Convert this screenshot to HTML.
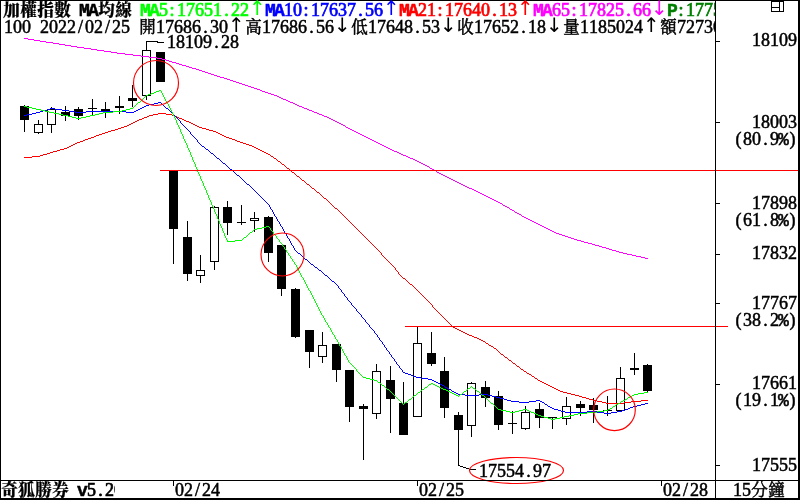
<!DOCTYPE html>
<html><head><meta charset="utf-8"><title>加權指數 MA均線</title>
<style>
html,body{margin:0;padding:0;background:#fff;overflow:hidden}
svg{display:block;position:absolute;left:0;top:0}
text{font-family:"Liberation Serif","Noto Serif CJK SC",serif;font-size:18px;white-space:pre;fill:currentColor;stroke:currentColor;stroke-width:.5px;color:#000}
text.b{stroke-width:.7px}
.b .k{font-weight:900;stroke-width:.2px}
.b .m{font-weight:bold;stroke-width:.5px}
.k{font-family:"Noto Serif CJK SC","Liberation Serif",serif;font-size:16.5px}
.m,.p{font-family:"Liberation Mono",monospace;font-size:18px}
.a{font-family:"DejaVu Sans",sans-serif;font-size:20px;stroke-width:0}
</style></head><body>
<svg width="800" height="500" viewBox="0 0 800 500">
<defs><clipPath id="hc"><rect x="0" y="0" width="715" height="36"/></clipPath><clipPath id="bc"><rect x="0" y="480" width="115" height="20"/></clipPath></defs>
<rect width="800" height="500" fill="#fff"/>
<g shape-rendering="crispEdges" fill="#000"><rect x="24" y="105" width="1" height="27"/><rect x="20" y="106" width="9" height="14"/><rect x="38" y="120" width="1" height="14"/><rect x="34" y="124" width="9" height="9"/><rect x="35" y="125" width="7" height="7" fill="#fff"/><rect x="51" y="107" width="1" height="26"/><rect x="47" y="109" width="9" height="16"/><rect x="48" y="110" width="7" height="14" fill="#fff"/><rect x="65" y="106" width="1" height="15"/><rect x="61" y="112" width="9" height="4"/><rect x="78" y="107" width="1" height="13"/><rect x="74" y="109" width="9" height="7"/><rect x="92" y="99" width="1" height="17"/><rect x="88" y="108" width="9" height="1"/><rect x="105" y="102" width="1" height="16"/><rect x="101" y="109" width="9" height="3"/><rect x="119" y="96" width="1" height="18"/><rect x="115" y="106" width="9" height="2"/><rect x="132" y="85" width="1" height="22"/><rect x="128" y="98" width="9" height="3"/><rect x="146" y="50" width="1" height="50"/><rect x="142" y="50" width="9" height="46"/><rect x="143" y="51" width="7" height="44" fill="#fff"/><rect x="160" y="52" width="1" height="30"/><rect x="156" y="52" width="9" height="30"/><rect x="173" y="171" width="1" height="93"/><rect x="169" y="171" width="9" height="58"/><rect x="187" y="221" width="1" height="60"/><rect x="183" y="237" width="9" height="37"/><rect x="200" y="255" width="1" height="28"/><rect x="196" y="270" width="9" height="6"/><rect x="197" y="271" width="7" height="4" fill="#fff"/><rect x="214" y="206" width="1" height="64"/><rect x="210" y="207" width="9" height="55"/><rect x="211" y="208" width="7" height="53" fill="#fff"/><rect x="227" y="201" width="1" height="34"/><rect x="223" y="207" width="9" height="16"/><rect x="241" y="205" width="1" height="20"/><rect x="237" y="222" width="9" height="1"/><rect x="254" y="212" width="1" height="20"/><rect x="250" y="218" width="9" height="3"/><rect x="251" y="219" width="7" height="1" fill="#fff"/><rect x="268" y="216" width="1" height="46"/><rect x="264" y="217" width="9" height="36"/><rect x="281" y="245" width="1" height="51"/><rect x="277" y="245" width="9" height="44"/><rect x="295" y="288" width="1" height="50"/><rect x="291" y="289" width="9" height="48"/><rect x="309" y="330" width="1" height="38"/><rect x="305" y="330" width="9" height="22"/><rect x="322" y="332" width="1" height="31"/><rect x="318" y="345" width="9" height="12"/><rect x="319" y="346" width="7" height="10" fill="#fff"/><rect x="336" y="344" width="1" height="38"/><rect x="332" y="344" width="9" height="26"/><rect x="349" y="370" width="1" height="52"/><rect x="345" y="370" width="9" height="37"/><rect x="363" y="404" width="1" height="56"/><rect x="359" y="406" width="9" height="3"/><rect x="376" y="364" width="1" height="55"/><rect x="372" y="371" width="9" height="43"/><rect x="373" y="372" width="7" height="41" fill="#fff"/><rect x="390" y="366" width="1" height="67"/><rect x="386" y="380" width="9" height="19"/><rect x="403" y="382" width="1" height="53"/><rect x="399" y="403" width="9" height="32"/><rect x="417" y="327" width="1" height="90"/><rect x="413" y="343" width="9" height="74"/><rect x="414" y="344" width="7" height="72" fill="#fff"/><rect x="431" y="332" width="1" height="34"/><rect x="427" y="353" width="9" height="11"/><rect x="444" y="357" width="1" height="61"/><rect x="440" y="371" width="9" height="37"/><rect x="458" y="412" width="1" height="54"/><rect x="454" y="415" width="9" height="15"/><rect x="471" y="382" width="1" height="55"/><rect x="467" y="383" width="9" height="43"/><rect x="468" y="384" width="7" height="41" fill="#fff"/><rect x="485" y="381" width="1" height="26"/><rect x="481" y="387" width="9" height="11"/><rect x="498" y="391" width="1" height="39"/><rect x="494" y="396" width="9" height="29"/><rect x="512" y="411" width="1" height="23"/><rect x="508" y="423" width="9" height="1"/><rect x="525" y="406" width="1" height="24"/><rect x="521" y="412" width="9" height="17"/><rect x="522" y="413" width="7" height="15" fill="#fff"/><rect x="539" y="403" width="1" height="25"/><rect x="535" y="409" width="9" height="9"/><rect x="552" y="417" width="1" height="12"/><rect x="548" y="417" width="9" height="1"/><rect x="566" y="397" width="1" height="28"/><rect x="562" y="406" width="9" height="13"/><rect x="563" y="407" width="7" height="11" fill="#fff"/><rect x="580" y="401" width="1" height="15"/><rect x="576" y="404" width="9" height="4"/><rect x="593" y="398" width="1" height="25"/><rect x="589" y="405" width="9" height="5"/><rect x="607" y="396" width="1" height="20"/><rect x="603" y="410" width="9" height="1"/><rect x="620" y="367" width="1" height="44"/><rect x="616" y="378" width="9" height="33"/><rect x="617" y="379" width="7" height="31" fill="#fff"/><rect x="634" y="353" width="1" height="22"/><rect x="630" y="368" width="9" height="2"/><rect x="647" y="364" width="1" height="29"/><rect x="643" y="365" width="9" height="26"/></g>
<g shape-rendering="crispEdges" stroke-width="1"><path fill="none" stroke="#f0f" d="M24 38.5h4M28 39.5h6M34 40.5h6M40 41.5h6M46 42.5h7M53 43.5h6M59 44.5h6M65 45.5h6M71 46.5h6M77 47.5h7M84 48.5h7M91 49.5h6M97 50.5h7M104 51.5h7M111 52.5h6M117 53.5h8M125 54.5h8M133 55.5h8M141 56.5h8M149 57.5h8M157 58.5h5M162 59.5h4M166 60.5h3M169 61.5h3M172 62.5h4M176 63.5h3M179 64.5h3M182 65.5h4M186 66.5h3M189 67.5h3M192 68.5h4M196 69.5h3M199 70.5h3M202 71.5h3M205 72.5h3M208 73.5h3M211 74.5h3M214 75.5h3M217 76.5h3M220 77.5h4M224 78.5h3M227 79.5h3M230 80.5h3M233 81.5h3M236 82.5h3M239 83.5h3M242 84.5h3M245 85.5h3M248 86.5h3M251 87.5h3M254 88.5h3M257 89.5h3M260 90.5h2M262 91.5h3M265 92.5h3M268 93.5h3M271 94.5h3M274 95.5h3M277 96.5h2M279 97.5h2M281 98.5h2M283 99.5h3M286 100.5h2M288 101.5h2M290 102.5h3M293 103.5h2M295 104.5h2M297 105.5h2M299 106.5h3M302 107.5h2M304 108.5h3M307 109.5h2M309 110.5h3M312 111.5h2M314 112.5h3M317 113.5h2M319 114.5h3M322 115.5h2M324 116.5h3M327 117.5h2M329 118.5h2M331 119.5h2M333 120.5h2M335 121.5h2M337 122.5h2M339 123.5h2M341 124.5h2M343 125.5h2M345 126.5h1M346 127.5h2M348 128.5h2M350 129.5h2M352 130.5h2M354 131.5h2M356 132.5h2M358 133.5h2M360 134.5h2M362 135.5h2M364 136.5h2M366 137.5h2M368 138.5h2M370 139.5h2M372 140.5h2M374 141.5h2M376 142.5h2M378 143.5h2M380 144.5h2M382 145.5h2M384 146.5h2M386 147.5h2M388 148.5h2M390 149.5h2M392 150.5h2M394 151.5h3M397 152.5h2M399 153.5h2M401 154.5h2M403 155.5h3M406 156.5h2M408 157.5h2M410 158.5h3M413 159.5h2M415 160.5h2M417 161.5h2M419 162.5h2M421 163.5h2M423 164.5h2M425 165.5h2M427 166.5h2M429 167.5h1M430 168.5h2M432 169.5h2M434 170.5h2M436 171.5h1M437 172.5h2M439 173.5h2M441 174.5h2M443 175.5h2M445 176.5h2M447 177.5h2M449 178.5h2M451 179.5h2M453 180.5h2M455 181.5h2M457 182.5h2M459 183.5h2M461 184.5h2M463 185.5h2M465 186.5h2M467 187.5h2M469 188.5h3M472 189.5h2M474 190.5h2M476 191.5h2M478 192.5h2M480 193.5h2M482 194.5h2M484 195.5h2M486 196.5h2M488 197.5h2M490 198.5h2M492 199.5h2M494 200.5h2M496 201.5h2M498 202.5h2M500 203.5h2M502 204.5h1M503 205.5h2M505 206.5h2M507 207.5h2M509 208.5h1M510 209.5h2M512 210.5h2M514 211.5h1M515 212.5h2M517 213.5h2M519 214.5h2M521 215.5h1M522 216.5h2M524 217.5h2M526 218.5h2M528 219.5h2M530 220.5h2M532 221.5h2M534 222.5h2M536 223.5h2M538 224.5h2M540 225.5h2M542 226.5h2M544 227.5h2M546 228.5h2M548 229.5h2M550 230.5h2M552 231.5h2M554 232.5h2M556 233.5h3M559 234.5h3M562 235.5h3M565 236.5h3M568 237.5h3M571 238.5h3M574 239.5h3M577 240.5h4M581 241.5h3M584 242.5h4M588 243.5h4M592 244.5h3M595 245.5h4M599 246.5h3M602 247.5h4M606 248.5h3M609 249.5h3M612 250.5h4M616 251.5h3M619 252.5h4M623 253.5h4M627 254.5h5M632 255.5h4M636 256.5h5M641 257.5h4M645 258.5h3"/><path fill="none" stroke="#f00" d="M24 157.5h8M32 156.5h8M40 155.5h3M43 154.5h4M47 153.5h3M50 152.5h3M53 151.5h4M57 150.5h3M60 149.5h4M64 148.5h3M67 147.5h2M69 146.5h2M71 145.5h2M73 144.5h2M75 143.5h2M77 142.5h3M80 141.5h3M83 140.5h2M85 139.5h3M88 138.5h3M91 137.5h3M94 136.5h2M96 135.5h3M99 134.5h3M102 133.5h3M105 132.5h3M108 131.5h3M111 130.5h4M115 129.5h3M118 128.5h3M121 127.5h3M124 126.5h3M127 125.5h2M129 124.5h2M131 123.5h2M133 122.5h2M135 121.5h2M137 120.5h2M139 119.5h3M142 118.5h2M144 117.5h3M147 116.5h2M149 115.5h4M153 114.5h5M158 113.5h8M166 114.5h6M172 115.5h2M174 116.5h3M177 117.5h2M179 118.5h3M182 119.5h2M184 120.5h2M186 121.5h3M189 122.5h2M191 123.5h2M193 124.5h2M195 125.5h2M197 126.5h2M199 127.5h3M202 128.5h4M206 129.5h3M209 130.5h4M213 131.5h3M216 132.5h2M218 133.5h2M220 134.5h2M222 135.5h2M224 136.5h2M226 137.5h3M229 138.5h3M232 139.5h3M235 140.5h2M237 141.5h3M240 142.5h3M243 143.5h3M246 144.5h3M249 145.5h3M252 146.5h2M254 147.5h2M256 148.5h2M258 149.5h2M260 150.5h2M262 151.5h2M264 152.5h2M266 153.5h2M268 154.5h2M270 155.5h1M271 156.5h2M273 157.5h1M274 158.5h2M276 159.5h1M277 160.5h1M278 161.5h2M280 162.5h1M281 163.5h1M282 164.5h2M284 165.5h1M285 166.5h1M286 167.5h1M287 168.5h2M289 169.5h1M290 170.5h1M291 171.5h1M292 172.5h2M294 173.5h1M295 174.5h1M296 175.5h1M297 176.5h2M299 177.5h1M300 178.5h1M301 179.5h1M302 180.5h2M304 181.5h1M305 182.5h1M306 183.5h1M307 184.5h2M309 185.5h1M310 186.5h1M311 187.5h1M312 188.5h2M314 189.5h1M315 190.5h1M316 191.5h1M317 192.5h2M319 193.5h1M320 194.5h1M321 195.5h1M322 196.5h1M323 197.5h1M324 198.5h2M326 199.5h1M327 200.5h1M328 201.5h1M329 202.5h1M330 203.5h1M331 204.5h1M332 205.5h1M333 206.5h1M334 207.5h1M335 208.5h2M337 209.5h1M338 210.5h1M339 211.5h1M340 212.5h1M341 213.5h1M342 214.5h1M343 215.5h1M344 216.5h1M345 217.5h1M346 218.5h1M347 219.5h1M348 220.5h1M349 221.5h1M350 222.5h1M351 223.5h1M352 224.5h1M353 225.5h1M354 226.5h1M355 227.5h1M356 228.5h1M357 229.5h1M358 230.5h1M359 231.5h1M360 232.5h1M361 233.5h1M362 234.5h1M363 235.5h1M364 236.5h1M365 237.5h1M366 238.5h1M367 239.5h1M368 240.5h1M369 241.5h1M370 242.5h1M371 243.5h1M372 244.5h1M373 245.5h1M374 246.5h1M375 247.5h1M376 248.5h1M377 249.5h1M378 250.5h1M379 251.5h1M380 252.5h1M381.5 253v2M382 255.5h1M383 256.5h1M384 257.5h1M385 258.5h1M386 259.5h1M387 260.5h1M388 261.5h1M389 262.5h1M390 263.5h1M391 264.5h1M392 265.5h1M393 266.5h1M394 267.5h1M395.5 268v2M396 270.5h1M397 271.5h1M398.5 272v2M399 274.5h1M400 275.5h1M401 276.5h1M402 277.5h1M403 278.5h2M405 279.5h1M406 280.5h1M407 281.5h1M408 282.5h1M409 283.5h1M410 284.5h2M412 285.5h1M413 286.5h1M414 287.5h1M415 288.5h1M416 289.5h1M417 290.5h1M418 291.5h1M419 292.5h1M420 293.5h1M421 294.5h1M422 295.5h1M423 296.5h1M424 297.5h1M425 298.5h1M426 299.5h1M427 300.5h1M428 301.5h1M429 302.5h1M430 303.5h1M431 304.5h1M432.5 305v2M433 307.5h1M434 308.5h1M435 309.5h1M436 310.5h1M437 311.5h1M438 312.5h1M439 313.5h1M440 314.5h1M441 315.5h1M442 316.5h1M443 317.5h1M444 318.5h1M445 319.5h1M446 320.5h1M447 321.5h1M448 322.5h1M449 323.5h1M450 324.5h1M451 325.5h1M452 326.5h1M453 327.5h2M455 328.5h2M457 329.5h2M459 330.5h2M461 331.5h2M463 332.5h2M465 333.5h2M467 334.5h2M469 335.5h3M472 336.5h2M474 337.5h3M477 338.5h2M479 339.5h2M481 340.5h2M483 341.5h2M485 342.5h1M486 343.5h2M488 344.5h1M489 345.5h2M491 346.5h2M493 347.5h1M494 348.5h2M496 349.5h1M497 350.5h1M498 351.5h1M499 352.5h1M500 353.5h1M501 354.5h2M503 355.5h1M504 356.5h1M505 357.5h2M507 358.5h1M508 359.5h1M509 360.5h2M511 361.5h1M512 362.5h1M513 363.5h2M515 364.5h1M516 365.5h1M517 366.5h2M519 367.5h1M520 368.5h1M521 369.5h2M523 370.5h1M524 371.5h2M526 372.5h1M527 373.5h2M529 374.5h2M531 375.5h1M532 376.5h2M534 377.5h1M535 378.5h2M537 379.5h1M538 380.5h2M540 381.5h2M542 382.5h2M544 383.5h2M546 384.5h2M548 385.5h2M550 386.5h2M552 387.5h2M554 388.5h2M556 389.5h2M558 390.5h2M560 391.5h3M563 392.5h4M567 393.5h4M571 394.5h4M575 395.5h4M579 396.5h3M582 397.5h4M586 398.5h3M589 399.5h4M593 400.5h4M597 401.5h5M602 402.5h4M606 403.5h18M624 402.5h7M631 401.5h10M641 400.5h7"/><path fill="none" stroke="#00f" d="M24 115.5h3M27 114.5h5M32 113.5h4M36 112.5h4M40 111.5h3M43 110.5h4M47 109.5h3M50 108.5h5M55 109.5h7M62 110.5h7M69 111.5h6M75 112.5h11M86 111.5h40M126 112.5h8M134 111.5h2M136 110.5h2M138 109.5h2M140 108.5h2M142 107.5h2M144 106.5h2M146 105.5h3M149 104.5h5M154 103.5h4M158 102.5h3M161 103.5h1M162 104.5h1M163 105.5h1M164 106.5h1M165 107.5h1M166 108.5h2M168 109.5h1M169 110.5h1M170 111.5h1M171 112.5h1M172 113.5h1M173 114.5h1M174 115.5h1M175 116.5h1M176 117.5h1M177 118.5h1M178 119.5h1M179 120.5h1M180.5 121v2M181 123.5h1M182 124.5h1M183 125.5h1M184 126.5h1M185 127.5h1M186 128.5h1M187 129.5h1M188 130.5h1M189 131.5h1M190.5 132v2M191 134.5h1M192 135.5h1M193 136.5h1M194 137.5h1M195 138.5h1M196 139.5h1M197.5 140v2M198 142.5h1M199 143.5h1M200 144.5h1M201 145.5h1M202 146.5h2M204 147.5h1M205 148.5h1M206 149.5h2M208 150.5h1M209 151.5h1M210 152.5h1M211 153.5h2M213 154.5h1M214 155.5h1M215 156.5h1M216 157.5h1M217 158.5h2M219 159.5h1M220 160.5h1M221 161.5h1M222 162.5h1M223 163.5h2M225 164.5h1M226 165.5h1M227 166.5h1M228 167.5h1M229 168.5h1M230 169.5h2M232 170.5h1M233 171.5h1M234 172.5h1M235 173.5h1M236 174.5h1M237 175.5h2M239 176.5h1M240 177.5h1M241 178.5h1M242 179.5h1M243 180.5h1M244 181.5h1M245 182.5h1M246 183.5h1M247 184.5h2M249 185.5h1M250 186.5h1M251 187.5h1M252 188.5h1M253 189.5h1M254 190.5h1M255 191.5h1M256 192.5h1M257 193.5h1M258 194.5h1M259 195.5h1M260 196.5h1M261 197.5h1M262 198.5h1M263 199.5h1M264 200.5h1M265 201.5h1M266 202.5h1M267 203.5h1M268 204.5h1M269.5 205v2M270.5 207v2M271 209.5h1M272.5 210v2M273.5 212v2M274.5 214v2M275 216.5h1M276.5 217v2M277.5 219v2M278 221.5h1M279.5 222v2M280.5 224v2M281 226.5h1M282.5 227v2M283.5 229v2M284.5 231v2M285 233.5h1M286.5 234v2M287.5 236v2M288 238.5h1M289.5 239v2M290.5 241v2M291.5 243v2M292 245.5h1M293.5 246v2M294.5 248v2M295 250.5h1M296 251.5h1M297 252.5h1M298 253.5h2M300 254.5h1M301 255.5h1M302 256.5h1M303 257.5h1M304 258.5h1M305 259.5h2M307 260.5h1M308 261.5h1M309 262.5h1M310 263.5h1M311 264.5h2M313 265.5h1M314 266.5h1M315 267.5h2M317 268.5h1M318 269.5h1M319 270.5h2M321 271.5h1M322 272.5h1M323 273.5h1M324 274.5h1M325 275.5h2M327 276.5h1M328 277.5h1M329 278.5h1M330 279.5h1M331 280.5h1M332 281.5h2M334 282.5h1M335 283.5h1M336 284.5h1M337 285.5h1M338.5 286v2M339 288.5h1M340 289.5h1M341.5 290v2M342 292.5h1M343 293.5h1M344.5 294v2M345 296.5h1M346 297.5h1M347.5 298v2M348 300.5h1M349 301.5h1M350 302.5h1M351.5 303v2M352 305.5h1M353 306.5h1M354 307.5h1M355 308.5h1M356.5 309v2M357 311.5h1M358 312.5h1M359 313.5h1M360 314.5h1M361.5 315v2M362 317.5h1M363 318.5h1M364 319.5h1M365.5 320v2M366 322.5h1M367 323.5h1M368 324.5h1M369.5 325v2M370 327.5h1M371 328.5h1M372 329.5h1M373 330.5h1M374.5 331v2M375 333.5h1M376 334.5h1M377.5 335v2M378 337.5h1M379.5 338v2M380 340.5h1M381 341.5h1M382.5 342v2M383 344.5h1M384.5 345v2M385 347.5h1M386.5 348v2M387 350.5h1M388 351.5h1M389.5 352v2M390 354.5h1M391.5 355v2M392 357.5h1M393 358.5h1M394.5 359v2M395 361.5h1M396.5 362v2M397 364.5h1M398 365.5h1M399.5 366v2M400 368.5h1M401 369.5h1M402.5 370v2M403 372.5h2M405 373.5h3M408 374.5h3M411 375.5h2M413 376.5h3M416 377.5h5M421 378.5h7M428 379.5h4M432 380.5h2M434 381.5h2M436 382.5h2M438 383.5h2M440 384.5h2M442 385.5h2M444 386.5h1M445 387.5h2M447 388.5h2M449 389.5h2M451 390.5h1M452 391.5h2M454 392.5h2M456 393.5h2M458 394.5h7M465 395.5h14M479 394.5h9M488 395.5h4M492 396.5h4M496 397.5h4M500 398.5h4M504 399.5h3M507 400.5h4M511 401.5h8M519 402.5h10M529 401.5h7M536 400.5h4M540 401.5h2M542 402.5h2M544 403.5h1M545 404.5h2M547 405.5h1M548 406.5h2M550 407.5h2M552 408.5h2M554 409.5h4M558 410.5h3M561 411.5h4M565 412.5h22M587 411.5h10M597 412.5h7M604 413.5h7M611 412.5h6M617 411.5h5M622 410.5h3M625 409.5h3M628 408.5h2M630 407.5h3M633 406.5h4M637 405.5h4M641 404.5h4M645 403.5h3"/><path fill="none" stroke="#0f0" d="M24 106.5h3M27 107.5h5M32 108.5h4M36 109.5h5M41 110.5h4M45 111.5h4M49 112.5h5M54 113.5h5M59 114.5h4M63 115.5h5M68 116.5h4M72 117.5h4M76 118.5h5M81 117.5h5M86 116.5h4M90 115.5h5M95 114.5h4M99 113.5h4M103 112.5h10M113 111.5h9M122 110.5h4M126 109.5h4M130 108.5h3M133 107.5h1M134 106.5h1M135 105.5h1M136 104.5h1M137 103.5h1M138 102.5h2M140 101.5h1M141 100.5h1M142 99.5h1M143 98.5h1M144 97.5h1M145 96.5h1M146 95.5h2M148 94.5h3M151 93.5h3M154 92.5h2M156 91.5h3M159 90.5h2M161.5 91v2M162.5 93v2M163.5 95v2M164.5 97v2M165.5 99v2M166.5 101v2M167 103.5h1M168.5 104v2M169.5 106v2M170.5 108v2M171.5 110v2M172.5 112v2M173.5 114v2M174.5 116v2M175.5 118v2M176.5 120v3M177.5 123v2M178.5 125v2M179.5 127v2M180.5 129v3M181.5 132v2M182.5 134v2M183.5 136v3M184.5 139v2M185.5 141v2M186.5 143v2M187.5 145v3M188.5 148v2M189.5 150v2M190.5 152v3M191.5 155v2M192.5 157v3M193.5 160v2M194.5 162v2M195.5 164v3M196.5 167v2M197.5 169v3M198.5 172v2M199.5 174v2M200.5 176v3M201.5 179v2M202.5 181v2M203.5 183v3M204.5 186v2M205.5 188v2M206.5 190v3M207.5 193v2M208.5 195v3M209.5 198v2M210.5 200v2M211.5 202v3M212.5 205v2M213.5 207v2M214.5 209v3M215.5 212v2M216.5 214v2M217.5 216v3M218.5 219v2M219.5 221v3M220.5 224v2M221.5 226v2M222.5 228v3M223.5 231v2M224.5 233v3M225.5 236v2M226.5 238v2M227.5 240v2M228 241.5h7M235 240.5h7M242 239.5h1M243 238.5h1M244 237.5h2M246 236.5h1M247 235.5h1M248 234.5h1M249 233.5h1M250 232.5h2M252 231.5h1M253 230.5h1M254 229.5h3M257 228.5h5M262 227.5h4M266 226.5h3M269 227.5h1M270.5 228v2M271 230.5h1M272 231.5h1M273.5 232v2M274 234.5h1M275 235.5h1M276.5 236v2M277 238.5h1M278 239.5h1M279.5 240v2M280 242.5h1M281 243.5h1M282.5 244v2M283 246.5h1M284.5 247v2M285 249.5h1M286.5 250v2M287 252.5h1M288.5 253v2M289 255.5h1M290.5 256v2M291 258.5h1M292.5 259v2M293 261.5h1M294.5 262v2M295 264.5h1M296.5 265v2M297.5 267v2M298.5 269v2M299.5 271v2M300.5 273v2M301.5 275v2M302 277.5h1M303.5 278v2M304.5 280v2M305.5 282v2M306.5 284v2M307.5 286v2M308.5 288v2M309 290.5h1M310.5 291v2M311.5 293v2M312.5 295v2M313.5 297v2M314.5 299v2M315.5 301v2M316.5 303v2M317.5 305v2M318.5 307v2M319.5 309v2M320.5 311v2M321.5 313v2M322 315.5h1M323.5 316v2M324.5 318v2M325.5 320v2M326 322.5h1M327.5 323v2M328.5 325v2M329 327.5h1M330.5 328v2M331.5 330v2M332.5 332v2M333 334.5h1M334.5 335v2M335.5 337v2M336 339.5h1M337.5 340v2M338.5 342v2M339.5 344v2M340 346.5h1M341.5 347v2M342.5 349v2M343.5 351v2M344.5 353v2M345 355.5h1M346.5 356v2M347.5 358v2M348.5 360v2M349 362.5h1M350 363.5h1M351 364.5h1M352 365.5h1M353 366.5h1M354 367.5h1M355 368.5h1M356.5 369v2M357 371.5h1M358 372.5h1M359 373.5h1M360 374.5h1M361 375.5h1M362 376.5h1M363 377.5h3M366 378.5h4M370 379.5h4M374 380.5h3M377 381.5h1M378 382.5h2M380 383.5h1M381 384.5h1M382 385.5h2M384 386.5h1M385 387.5h1M386 388.5h1M387 389.5h2M389 390.5h1M390 391.5h1M391 392.5h1M392 393.5h1M393 394.5h1M394 395.5h1M395 396.5h1M396 397.5h1M397 398.5h1M398 399.5h1M399 400.5h1M400 401.5h1M401 402.5h1M402 403.5h1M403 404.5h1M404 403.5h1M405 402.5h2M407 401.5h1M408 400.5h1M409 399.5h2M411 398.5h1M412 397.5h1M413 396.5h1M414 395.5h2M416 394.5h1M417 393.5h1M418 392.5h2M420 391.5h1M421 390.5h1M422 389.5h2M424 388.5h1M425 387.5h2M427 386.5h1M428 385.5h1M429 384.5h2M431 383.5h2M433 384.5h2M435 385.5h2M437 386.5h2M439 387.5h2M441 388.5h2M443 389.5h3M446 390.5h2M448 391.5h2M450 392.5h2M452 393.5h2M454 394.5h2M456 395.5h2M458 396.5h1M459 395.5h1M460 394.5h2M462 393.5h1M463 392.5h1M464 391.5h2M466 390.5h1M467 389.5h1M468 388.5h2M470 387.5h1M471 386.5h1M472 387.5h1M473 388.5h2M475 389.5h1M476 390.5h1M477 391.5h2M479 392.5h1M480 393.5h1M481 394.5h1M482 395.5h2M484 396.5h1M485 397.5h1M486 398.5h1M487 399.5h1M488 400.5h1M489 401.5h1M490 402.5h1M491 403.5h2M493 404.5h1M494 405.5h1M495 406.5h1M496 407.5h1M497 408.5h1M498 409.5h3M501 410.5h5M506 411.5h4M510 412.5h5M515 411.5h4M519 410.5h4M523 409.5h4M527 410.5h2M529 411.5h2M531 412.5h3M534 413.5h2M536 414.5h2M538 415.5h3M541 416.5h3M544 417.5h4M548 418.5h3M551 419.5h4M555 418.5h5M560 417.5h4M564 416.5h5M569 415.5h5M574 414.5h4M578 413.5h9M587 412.5h10M597 411.5h7M604 410.5h4M608 409.5h2M610 408.5h2M612 407.5h1M613 406.5h2M615 405.5h1M616 404.5h2M618 403.5h2M620 402.5h1M621 401.5h2M623 400.5h2M625 399.5h2M627 398.5h1M628 397.5h2M630 396.5h2M632 395.5h2M634 394.5h4M638 393.5h6M644 392.5h4"/><path shape-rendering="crispEdges" stroke-width="1" stroke="#f00" d="M160 170.5H798M405 326.5H728"/></g>
<path shape-rendering="crispEdges" fill="none" stroke="#000" d="M146.5 50V41.5H157L158 42.5H164M458.5 430V465.5L470.5 469.5H476"/>
<g fill="none" stroke="#f00" stroke-width="1.15"><circle cx="156" cy="83" r="22.5"/><circle cx="282.5" cy="254.5" r="21.5"/><circle cx="614.5" cy="409.8" r="20.8"/><ellipse cx="516.5" cy="470.5" rx="47" ry="13"/></g>
<g shape-rendering="crispEdges" fill="#000"><rect x="0" y="0" width="800" height="1"/><rect x="0" y="0" width="1" height="500"/><rect x="798" y="0" width="2" height="500"/><rect x="0" y="498" width="800" height="2"/><rect x="715" y="0" width="1" height="500"/><rect x="0" y="480" width="800" height="1"/><rect x="716" y="41" width="4" height="1"/><rect x="716" y="122" width="4" height="1"/><rect x="716" y="203" width="4" height="1"/><rect x="716" y="254" width="4" height="1"/><rect x="716" y="303" width="4" height="1"/><rect x="716" y="384" width="4" height="1"/><rect x="716" y="465" width="4" height="1"/><rect x="173" y="481" width="1" height="5"/><rect x="417" y="481" width="1" height="5"/><rect x="661" y="481" width="1" height="5"/></g>
<g shape-rendering="crispEdges" fill="#000"><rect x="771" y="1" width="13" height="1"/><rect x="771" y="1" width="1" height="11"/><rect x="783" y="1" width="1" height="11"/><rect x="771" y="11" width="13" height="1"/><rect x="779" y="1" width="1" height="11"/><rect x="771" y="7" width="9" height="1"/></g>
<g clip-path="url(#hc)"><text y="16" class="b" style="color:#000" xml:space="preserve"><tspan class="k" x="3.2 20.2 37.2 54.2" y="16">加權指數</tspan><tspan x="73.2" y="16"> </tspan><tspan class="m" x="79.1 88.1" y="16">MA</tspan><tspan class="k" x="98.2 115.2" y="16">均線</tspan><tspan x="134.2" y="16"> </tspan></text><text y="16" class="b" style="color:#0f0" xml:space="preserve"><tspan class="m" x="140.1 149.1" y="16">MA</tspan><tspan x="159 169.5 177 186 195 204 213 224.2 231 240" y="16">5:17651.22</tspan><tspan class="a" x="249.1" y="15">↑</tspan></text><text y="16" class="b" style="color:#00f" xml:space="preserve"><tspan class="m" x="265.1 274.1" y="16">MA</tspan><tspan x="284 293 303.5 311 320 329 338 347 358.2 365 374" y="16">10:17637.56</tspan><tspan class="a" x="383.1" y="15">↑</tspan></text><text y="16" class="b" style="color:#f00" xml:space="preserve"><tspan class="m" x="399.1 408.1" y="16">MA</tspan><tspan x="418 427 437.5 445 454 463 472 481 492.2 499 508" y="16">21:17640.13</tspan><tspan class="a" x="517.1" y="15">↑</tspan></text><text y="16" class="b" style="color:#f0f" xml:space="preserve"><tspan class="m" x="533.1 542.1" y="16">MA</tspan><tspan x="552 561 571.5 579 588 597 606 615 626.2 633 642" y="16">65:17825.66</tspan><tspan class="a" x="651.1" y="15">↓</tspan></text><text y="16" class="b" style="color:#008000" xml:space="preserve"><tspan class="m" x="667.1" y="16">P</tspan><tspan x="678.5 686 695 704 713 722" y="16">:17754</tspan></text><text y="33" xml:space="preserve"><tspan x="4 13 22 33.2 40 49 58 67 78 85 94 105 112 121 132.2" y="33">100 2022/02/25 </tspan><tspan class="k" x="139.2" y="33">開</tspan><tspan x="156 165 174 183 192 203.2 210 219" y="33">17686.30</tspan><tspan class="a" x="228.1" y="32">↑</tspan><tspan class="k" x="245.2" y="33">高</tspan><tspan x="262 271 280 289 298 309.2 316 325" y="33">17686.56</tspan><tspan class="a" x="334.1" y="32">↓</tspan><tspan class="k" x="351.2" y="33">低</tspan><tspan x="368 377 386 395 404 415.2 422 431" y="33">17648.53</tspan><tspan class="a" x="440.1" y="32">↓</tspan><tspan class="k" x="457.2" y="33">收</tspan><tspan x="474 483 492 501 510 521.2 528 537" y="33">17652.18</tspan><tspan class="a" x="546.1" y="32">↓</tspan><tspan class="k" x="563.2" y="33">量</tspan><tspan x="580 589 598 607 616 625 634" y="33">1185024</tspan><tspan class="a" x="643.1" y="32">↑</tspan><tspan class="k" x="660.2" y="33">額</tspan><tspan x="677 686 695 704 713 722" y="33">727306</tspan></text></g>
<text y="46" xml:space="preserve"><tspan x="752 761 770 779 788" y="46">18109</tspan></text>
<text y="127.5" xml:space="preserve"><tspan x="752 761 770 779 788" y="127.5">18003</tspan></text>
<text y="144.5" xml:space="preserve"><tspan x="735.5 743 752 763.2 770" y="144.5">(80.9</tspan><tspan class="p" x="778.1" y="144.5">%</tspan><tspan x="789.5" y="144.5">)</tspan></text>
<text y="208.5" xml:space="preserve"><tspan x="752 761 770 779 788" y="208.5">17898</tspan></text>
<text y="225.5" xml:space="preserve"><tspan x="735.5 743 752 763.2 770" y="225.5">(61.8</tspan><tspan class="p" x="778.1" y="225.5">%</tspan><tspan x="789.5" y="225.5">)</tspan></text>
<text y="258.5" xml:space="preserve"><tspan x="752 761 770 779 788" y="258.5">17832</tspan></text>
<text y="308.5" xml:space="preserve"><tspan x="752 761 770 779 788" y="308.5">17767</tspan></text>
<text y="325.5" xml:space="preserve"><tspan x="735.5 743 752 763.2 770" y="325.5">(38.2</tspan><tspan class="p" x="778.1" y="325.5">%</tspan><tspan x="789.5" y="325.5">)</tspan></text>
<text y="389" xml:space="preserve"><tspan x="752 761 770 779 788" y="389">17661</tspan></text>
<text y="406" xml:space="preserve"><tspan x="735.5 743 752 763.2 770" y="406">(19.1</tspan><tspan class="p" x="778.1" y="406">%</tspan><tspan x="789.5" y="406">)</tspan></text>
<text y="470.5" xml:space="preserve"><tspan x="752 761 770 779 788" y="470.5">17555</tspan></text>
<text y="495.5" xml:space="preserve"><tspan x="175 184 195 202 211" y="495.5">02/24</tspan></text>
<text y="495.5" xml:space="preserve"><tspan x="419 428 439 446 455" y="495.5">02/25</tspan></text>
<text y="495.5" xml:space="preserve"><tspan x="663 672 683 690 699" y="495.5">02/28</tspan></text>
<text y="496" xml:space="preserve"><tspan x="733 742" y="496">15</tspan><tspan class="k" x="751.2 768.2" y="496">分鐘</tspan></text>
<g clip-path="url(#bc)"><text y="496" class="b" xml:space="preserve"><tspan class="k" x="1.2 18.2 35.2 52.2" y="496">奇狐勝券</tspan><tspan x="71.2" y="496"> </tspan><tspan class="m" x="77.1" y="496">v</tspan><tspan x="87 98.2 105 114" y="496">5.20</tspan></text></g>
<text y="48" xml:space="preserve"><tspan x="167 176 185 194 203 214.2 221 230" y="48">18109.28</tspan></text>
<text y="476.5" xml:space="preserve"><tspan x="479 488 497 506 515 526.2 533 542" y="476.5">17554.97</tspan></text>
</svg>
</body></html>
